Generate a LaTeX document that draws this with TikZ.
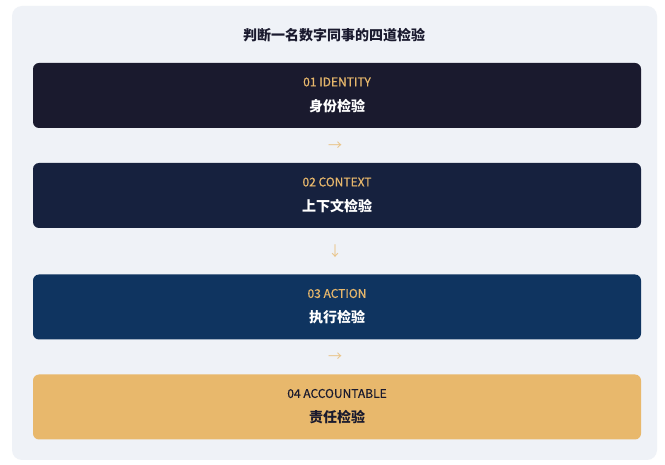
\documentclass[tikz,border=0pt]{standalone}
\usepackage{fontspec}
\setmainfont{Noto Sans CJK SC}
\newfontfamily\tagfont[FakeBold=0.6]{Noto Sans CJK SC}
\usetikzlibrary{positioning}
\definecolor{panel}{HTML}{EFF2F7}
\definecolor{ink}{HTML}{1A1A2E}
\definecolor{navy}{HTML}{16213E}
\definecolor{ocean}{HTML}{0F3460}
\definecolor{gold}{HTML}{E8B86C}
\tikzset{
	stage/.style={rounded corners=6pt,minimum width=608pt,minimum height=65pt,inner sep=0pt},
	tag/.style={font=\tagfont\fontsize{12}{14}\selectfont},
	zhlabel/.style={font=\bfseries\fontsize{14}{16}\selectfont},
	hop/.style={text=gold!80!panel,font=\fontsize{14}{16}\selectfont}
}
\begin{document}
\begin{tikzpicture}[x=1pt,y=-1pt]
		\useasboundingbox (0,0) rectangle (665,465);
		\fill[white] (0,0) rectangle (665,465);
		\fill[panel,rounded corners=10pt] (12,6) rectangle (657,460);
		\node[zhlabel,text=ink,font=\bfseries\fontsize{14}{16}\selectfont] (title) at (334,35) {判断一名数字同事的四道检验};
		\foreach \k/\y/\fc/\tc/\nc/\en/\zh in {
			1/95.5/ink/gold/white/01 IDENTITY/身份检验,
			2/195.5/navy/gold/white/02 CONTEXT/上下文检验,
			3/307/ocean/gold/white/03 ACTION/执行检验,
			4/407/gold/ink/ink/04 ACCOUNTABLE/责任检验}
		{
			\node[stage,fill=\fc] (s\k) at (337,\y) {};
			\node[tag,text=\tc] (t\k) at ([yshift=13.5pt]s\k.center) {\en};
			\node[zhlabel,text=\nc] (z\k) at ([yshift=-10.5pt]s\k.center) {\zh};
		}
		\foreach \k/\y/\g in {1/146/→,2/251/↓,3/357/→} \node[hop] (h\k) at (335,\y) {\g};
	\end{tikzpicture}
\end{document}
